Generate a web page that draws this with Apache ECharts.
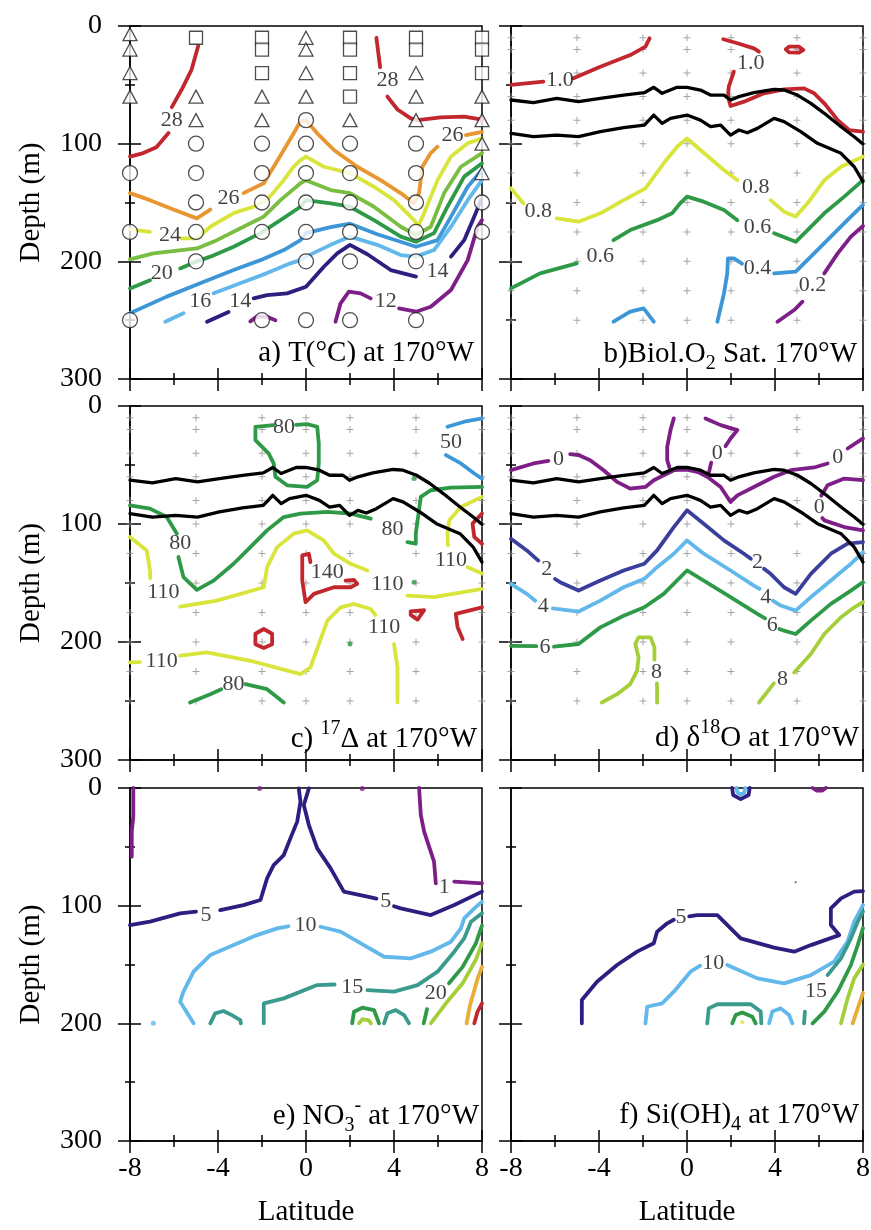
<!DOCTYPE html>
<html>
<head>
<meta charset="utf-8">
<script src="https://cdn.jsdelivr.net/npm/echarts@6/dist/echarts.min.js"></script>
<style>
  html, body { margin: 0; padding: 0; background: #fff; }
  #chart { width: 871px; height: 1230px; }
</style>
</head>
<body>
<div id="chart"></div>
<script>
// ---------------------------------------------------------------
// Equatorial Pacific section at 170°W: six contoured properties.
// Every contour is a list of [latitude, depth(m)] points; null
// marks a break in the line (where a contour label sits).
// ---------------------------------------------------------------
const latTicks = [-8, -4, 0, 4, 8];
const depthTicks = [0, 100, 200, 300];

// sampling grid shown as small crosses in panels b-d
const sampleLats = [-8, -5, -2, 0, 2, 5, 8];
const sampleDepths = [10, 20, 40, 60, 80, 100, 125, 150, 175, 200, 225, 250];

// ---- a) temperature (°C) ----
const t28 = [[-4.9,17],[-5.2,37],[-5.65,54],[-6.1,69],null,[-6.25,91],[-6.8,103],[-7.4,108],[-8,111],null,[3.2,10],[3.37,35],null,[3.7,60],[4.16,71],[4.76,78.5],[5.07,80],[6.13,77.6],[7.19,77],[7.8,79],[8,80]];
const t26 = [[-8,142],[-7.09,148],[-6.03,156],[-4.96,163.5],[-4.35,156],null,[-2.84,142],[-1.92,133.7],[-1.47,119.6],[-1.01,105.4],[-0.56,91.2],[-0.25,81],[0,80],[0.5,91],[1.27,105.4],[2.33,119.6],[3.39,131],[4.3,142],[4.91,150.7],[5.14,142],[5.29,119.6],[5.67,108],[5.98,102.6],null,[7.27,92.7],[8,90]];
const t24 = [[-8,172.8],[-7.1,175],null,[-5.64,180.5],[-4.96,180.5],[-4.35,170.6],[-3.29,159],[-2.38,153.6],[-1.77,148],[-1.01,131],[-0.56,119.6],[-0.25,114],[0,111],[0.81,119.6],[2,125],[3.09,136.6],[4,148],[4.91,165],[5.1,170],[5.37,159],[5.98,131],[6.59,111],[7.35,99.7],[8,95.5]];
const t22 = [[-8,198.3],[-6.94,193.2],[-4.96,189],[-4.05,182],[-2.84,170.6],[-1.92,162],[-1.16,148],[-0.25,133.7],[0,131],[1.12,139.4],[2,142],[3.09,153.6],[4.31,170.6],[5,177.7],[5.67,170.6],[6.28,142],[7.04,119.6],[8,108]];
const t20 = [[-8,223],[-7.09,216],null,[-5.72,206],[-4.96,200],[-4.35,196],[-3.29,187.6],[-2.07,176],[-1.16,165],[-0.25,153.6],[0,148],[1.12,150.7],[2,153.6],[3.09,165],[4.31,179],[5,183.4],[5.82,176],[6.43,153.6],[7.19,128],[8,116.7]];
const t18 = [[-8,244.2],[-6.33,230],[-4.81,218.7],[-3.29,207.4],[-2.07,199],[-1.01,190.4],[-0.25,182],[0,176],[1.12,171],[2,168],[3.24,177],[5,187.6],[5.98,182],[6.59,162],[7.35,136.6],[8,122.4]];
const t16 = [[-6.4,251.3],[-5.57,244.2],null,[-4.2,227.2],[-2.99,218.7],[-1.77,210],[-0.71,201.7],[-0.25,199],[0,196],[1.12,186],[2,179],[3.24,186],[4.31,194.7],[5,196],[5.82,190.4],[6.59,170.6],[7.35,148],[8,131]];
const t14 = [[-4.5,251.3],[-3.52,243],null,[-2.38,231.5],[-1.77,228.7],[-0.86,227.2],[0,221.6],[0.81,204.6],[1.42,193.2],[2,186],[2.79,194],[3.85,207.4],[5,213],null,[6.59,196],[7.19,182],[7.65,162],[7.95,148]];
const t12 = [[-2.53,251],[-2.23,247],[-1.77,247],[-1.39,250],null,[1.34,251.3],[1.57,235.7],[1.95,225.8],[2.48,227.2],[2.94,231.5],null,[4.23,240],[5,242.8],[5.67,238.6],[6.59,224.4],[7.35,199],[7.8,170.6],[8,165]];
const tLabels = [[-6.1,80,'28'],[3.7,46,'28'],[-3.52,146.5,'26'],[6.66,92.7,'26'],[-6.18,177.7,'24'],[-6.56,210,'20'],[-4.81,234.3,'16'],[-2.99,234.3,'14'],[5.98,208.8,'14'],[3.62,234,'12']];

// CTD / bottle sample positions in panel a
const stnTriangles = [[-8,7],[-8,20],[-8,40],[-8,60],[-5,60],[-5,80],[-2,60],[-2,80],[0,10],[0,20],[0,40],[0,60],[2,80],[5,40],[5,60],[5,80],[8,60],[8,80],[8,100],[8,125]];
const stnSquares = [[-5,10],[-2,10],[-2,20],[-2,40],[2,10],[2,20],[2,40],[2,60],[5,10],[5,20],[8,10],[8,20],[8,40]];
const stnCircles = [[-8,125],[-8,175],[-8,250],[-5,100],[-5,125],[-5,150],[-5,175],[-5,200],[-2,100],[-2,125],[-2,150],[-2,175],[-2,250],[0,80],[0,100],[0,125],[0,150],[0,175],[0,200],[0,250],[2,100],[2,125],[2,150],[2,175],[2,200],[2,250],[5,100],[5,125],[5,150],[5,175],[5,200],[5,250],[8,150],[8,175]];

// ---- mixed-layer / euphotic boundaries (black lines, panels b-d) ----
const mixTop = [[-8,62.9],[-6.98,65.2],[-5.92,61.5],[-4.93,64.3],[-3.94,61.5],[-2.88,58.7],[-1.94,56.7],[-1.51,52.1],[-1.13,57.2],[-0.45,52.1],[0,52.1],[0.61,54.4],[1.07,58.7],[1.68,58.7],[1.98,62.9],[2.36,60],[3.04,56.7],[3.96,53.8],[4.41,54.4],[5.02,58.7],[5.63,65.7],[6.24,74.2],[7,85.6],[7.6,94.1],[8,100.3]];
const mixBot = [[-8,91.2],[-6.98,94.1],[-5.92,92.7],[-4.93,94.1],[-3.94,89.8],[-2.88,86.4],[-1.94,84.2],[-1.51,75.7],[-1.13,82.7],[-0.75,78.5],[0,75.7],[0.61,80],[1.07,85.6],[1.53,84.2],[1.98,92.7],[2.36,88.4],[2.74,90.7],[3.2,87],[3.96,78.5],[4.41,81.3],[5.17,89.8],[5.93,99.7],[7,108.2],[7.6,119.6],[8,132.3]];

// ---- b) biological O2 saturation ----
const o2s10 = [[-8,50],[-6.53,47.3],null,[-5.16,44.5],[-3.94,34.6],[-2.58,24.7],[-1.89,17.6],[-1.7,10.5],null,[1.65,11.3],[2.29,14.7],[3.04,19],[3.27,21.8],null,[4.49,19.8],[4.64,17.6],[5.09,17.6],[5.29,20.4],[5.09,22.7],[4.64,22.4],[4.49,19.8],null,[2.13,38.8],[1.9,51.6],[1.86,60],[1.98,68],[2.59,64.3],[3.5,57.2],[4.41,53.8],[5.32,53],[5.78,57.2],[6.24,65.7],[6.85,80],[7.37,88.4],[8,89.8]];
const o2s08 = [[-8,138],[-7.44,150.7],null,[-5.92,163.5],[-4.93,166.3],[-3.94,159.2],[-2.88,148],[-1.89,138],[-1.06,116.7],[-0.45,102.6],[0,95.5],[0.61,105.4],[1.68,122.4],[2.29,131],null,[3.8,148],[4.41,157.8],[4.94,162],[5.48,150.7],[6.24,131],[7,119.6],[8,111]];
const o2s06 = [[-8,223],[-6.68,210.2],[-5.01,201.7],null,[-3.34,182],[-2.58,173.4],[-1.36,165],[-0.68,159.2],[-0.31,150.7],[0,145],[0.76,149.3],[1.68,156.4],[2.29,165],null,[3.96,176.2],[4.94,183.4],[5.48,173.4],[6.24,159.2],[7.15,145],[8,131]];
const o2s04 = [[-3.34,251.3],[-2.58,242.8],[-1.97,240],[-1.51,251.3],null,[1.38,251.3],[1.68,227.2],[1.83,210.2],[1.86,197.5],[2.13,197.5],[2.5,202],null,[3.96,210.2],[4.94,208.8],[5.63,196],[6.54,179],[7.45,162],[8,152]];
const o2s02 = [[4.11,251.3],[4.87,241.4],[5.25,234.3],null,[6.24,210.2],[6.85,193.2],[7.45,179],[8,170]];
const o2Labels = [[-5.77,46,'1.0'],[2.9,31.7,'1.0'],[-6.76,157.8,'0.8'],[3.12,136.6,'0.8'],[-3.94,196,'0.6'],[3.2,170.6,'0.6'],[3.2,206,'0.4'],[5.7,220,'0.2']];

// ---- c) 17Δ ----
const d17_80 = [[-1.47,16.2],[-2.3,17.6],[-2.3,28.9],[-1.7,40.2],[-1.47,48.7],[-1.39,60],[-0.86,67.2],[0.05,68.6],[0.51,62.9],[0.58,48.7],[0.58,31.7],[0.51,17.6],[0.05,15.3],[-0.45,16],null,[-8,84.2],[-7.09,87],[-6.33,94.1],[-5.87,108.2],null,[-5.8,128],[-5.57,145],[-4.96,155.8],[-4.2,148],[-3.29,133.7],[-2.53,119.6],[-1.77,105.4],[-1.01,94.1],[-0.25,91.2],[0.97,89.8],[2.03,91.2],[2.94,95.5],null,[4.61,115.3],[4.99,116.7],[4.99,108.2],[5.22,77],[5.67,71.4],[6.59,69.1],[8,68.6],null,[-5.27,251.3],[-4.35,244.2],[-3.85,240],null,[-2.75,235.7],[-1.77,240],[-1.01,251.3]];
const d17_80dots = [[4.91,61.5],[4.91,149.3],[2,201.7]];
const d17_110 = [[-8,111],[-7.24,122.4],[-7.09,139.4],[-7.08,146],null,[-5.72,170],[-4.05,165],[-1.92,153.6],[-1.77,136.6],[-1.31,119.6],[-0.56,108.2],[0.05,105.4],[0.81,113.9],[1.27,125.2],[2.03,133.7],[2.79,139.4],null,[4.61,160.7],[5.82,162],[8,155],null,[8,77],[7.04,85.6],[6.51,96.9],[6.43,108.2],[6.45,118],null,[7.35,136.6],[8,142],null,[-8,217.3],[-7.55,217],null,[-5.72,211.6],[-4.5,208.8],[-2.53,215.9],[-0.25,227.2],[0.2,221.6],[0.97,181.9],[1.57,170.6],[2.18,167.8],[2.94,172],[3.15,177],null,[4.0,201.7],[4.16,221.6],[4.16,251.3]];
const d17_140 = [[0.2,132.3],[0.13,125.2],[-0.17,126.6],[-0.17,147.9],[-0.02,166.3],[0.36,159.2],[1.27,153.6],[2.03,153.6],[2.33,150.7],[2.18,147.4],[1.8,147.9],null,[-2.3,193],[-1.92,189],[-1.54,193],[-1.54,202],[-1.92,205],[-2.3,202],[-2.3,193],null,[4.76,174],[5.37,173],[5.07,181],[4.76,177],[4.76,174],null,[8,91.2],[7.57,99.7],[7.65,111],[8,116.7],null,[8,170.6],[6.81,176.2],[6.89,187.6],[7.12,197.5]];
const d17_50 = [[8,10.5],[7.19,13.3],[6.43,17.6],null,[6.36,41.6],[7.04,48.7],[7.65,57.2],[8,61.5]];
const d17Labels = [[-1.0,17.6,'80'],[-5.72,116.7,'80'],[3.93,104,'80'],[-3.29,235.7,'80'],[-6.48,157.8,'110'],[3.7,150.7,'110'],[6.59,131,'110'],[-6.56,216,'110'],[3.55,187.6,'110'],[0.97,140.8,'140'],[6.59,30.3,'50']];

// ---- d) δ18O ----
const d18_0 = [[-8,54.4],[-6.98,48.7],[-6.3,46.5],null,[-5.31,40.8],[-4.93,41.6],[-4.4,45.9],[-3.79,54.4],[-3.18,64.3],[-2.58,70],[-1.89,68.6],[-1.51,62.9],[-1.06,58.7],[-0.6,54.4],[0,54],[0.5,56],[0.92,60],[1.53,68.6],[1.98,81.3],[2.29,75.7],[3.04,68.6],[3.96,60],[4.72,54.4],[5.78,52.1],[6.39,48.7],null,[7.3,36],[8,27.5],null,[-0.6,10.5],[-0.75,20.4],[-0.9,34.6],[-0.9,45.9],[-0.8,52],null,[0.84,10.5],[1.53,16.2],[2.29,20.4],[1.98,27.5],[1.75,34],null,[1.1,48],[1.0,56],null,[8,62.9],[7.15,61.5],[6.39,67.2],[6.1,76],null,[6.15,95],[6.24,96.9],[7.15,102.6],[8,105.4]];
const d18_2 = [[-8,112.5],[-7.28,122.4],[-6.76,131],null,[-6.0,146.6],[-5.77,149.3],[-4.93,156.4],[-3.94,147.9],[-2.88,139.4],[-1.94,133.7],[-1.36,122.4],[-0.6,102.6],[0,88.4],[0.76,99.7],[1.68,113.9],[2.59,125.2],[2.9,129.5],null,[3.5,138],[3.8,142.2],[4.41,153.6],[4.94,159.2],[5.63,142.2],[6.54,125.2],[7.3,116.7],[8,115.3]];
const d18_4 = [[-8,150.7],[-7.28,159.2],[-6.9,165],null,[-6.1,171.5],[-5.92,172],[-4.93,174.2],[-3.94,164.9],[-2.88,153.6],[-1.94,146.5],[-1.36,136.6],[-0.6,125.2],[0,113.9],[0.76,125.2],[1.98,139.4],[3.04,152.2],[3.3,155],null,[3.9,165],[4.26,169.1],[4.94,173.4],[5.63,162],[6.54,147.9],[7.45,133.7],[8,123.8]];
const d18_6 = [[-8,203.2],[-6.85,203.5],null,[-6.05,204],[-4.93,201.7],[-3.94,187.6],[-2.88,177.7],[-1.94,170.6],[-1.06,159.2],[0,139.4],[0.76,147.9],[1.98,162],[3.2,176.2],[3.55,180],null,[4.2,189],[4.41,190.4],[4.94,193.2],[5.63,181.9],[6.54,167.7],[7.45,156.4],[8,149.3]];
const d18_8 = [[-3.87,251.3],[-3.18,244.2],[-2.58,235.7],[-2.27,224.4],[-2.2,213.1],[-2.35,201.7],[-2.2,196],[-1.66,196],[-1.48,204.6],[-1.48,215],null,[-1.37,235],[-1.36,238.6],[-1.36,251.3],null,[3.27,251.3],[3.8,238.6],[3.95,235],null,[4.87,225.8],[5.63,210.2],[6.24,193.2],[7,179],[7.6,170.6],[8,166.3]];
const d18Labels = [[-5.84,45.3,'0'],[1.38,40.2,'0'],[6.85,43.1,'0'],[6.01,85.6,'0'],[-6.37,138,'2'],[3.2,132.3,'2'],[-6.53,170,'4'],[3.58,162,'4'],[-6.45,204,'6'],[3.88,186,'6'],[-1.39,225.8,'8'],[4.34,231.5,'8']];

// ---- e) nitrate ----
const no3_1 = [[-7.85,0],[-7.85,24],[-7.92,37],[-7.92,58.4],null,[5.14,0],[5.22,23],[5.37,37],[5.67,54.1],[5.82,62.6],[5.9,81],null,[6.74,79.6],[8,81]];
const no3_1dots = [[-2.11,0.5],[2.56,0.5]];
const no3_5 = [[-8,116.5],[-7.09,113.6],[-5.72,106.5],[-5.0,105],null,[-3.9,103.7],[-2.84,99.5],[-2.07,95.2],[-1.77,76.8],[-1.47,65.5],[-1.01,57],[-0.71,42.8],[-0.4,28.6],[-0.25,11.6],[-0.33,0.3],null,[0.13,0.3],[-0.1,14.5],[0.13,31.5],[0.51,51.3],[1.12,68.3],[1.72,88.1],[2.79,92.4],[3.2,94],null,[4.0,100.5],[4.31,102.3],[5.67,108],[6.74,99.5],[8,88.1]];
const no3_10 = [[-5.11,200],[-5.72,181.6],[-5.57,173.1],[-5.11,156.1],[-4.35,142],[-3.29,133.5],[-2.23,125],[-1.31,119.3],[-0.8,117.5],null,[0.66,117.9],[1.57,122.1],[2.63,133.5],[3.55,143.4],[4.76,144.8],[5.67,139.1],[6.59,130.6],[7.04,119.3],[7.19,110.8],[7.65,102.3],[8,96.6]];
const no3_10dots = [[-6.94,200]];
const no3_15 = [[-1.92,200],[-1.92,183],[-1.01,178.8],[0.51,167.5],[1.3,167],null,[2.79,171.7],[4,173.1],[5.07,167.5],[5.98,156.1],[6.74,139.1],[7.19,127.8],[7.5,113.6],[8,106.5],null,[-4.35,200],[-4.13,191.5],[-3.75,189.5],[-3.37,193],[-2.99,197.2],[-2.96,200],null,[3.55,200],[3.7,191.5],[4.08,188.7],[4.46,193],[4.68,200]];
const no3_20 = [[5.35,200],[5.5,188],null,[6.5,166],[7.12,152],[7.72,132],[8,117],null,[2.1,200],[2.18,190.1],[2.56,186.7],[3.09,188.7],[3.32,200]];
const no3_25 = [[5.67,200],[6.36,183],[7.12,166],[7.72,146],[8,132],null,[2.41,200],[2.56,196.5],[2.86,197.5],[2.95,200]];
const no3_30 = [[7.3,200],[7.45,185],[7.8,162],[8,152]];
const no3_35 = [[7.65,200],[7.8,190],[8,183]];
const no3Labels = [[-4.54,108,'5'],[3.62,96.6,'5'],[-0.02,116.5,'10'],[2.1,168.9,'15'],[5.9,174.5,'20'],[6.28,83.9,'1']];

// ---- f) silicate ----
const si_1 = [[5.71,0],[5.9,2.2],[6.15,2.2],[6.31,0]];
const si_5 = [[-4.78,200],[-4.78,180.2],[-4.09,164.6],[-3.18,150.4],[-2.27,139.1],[-1.51,132],[-1.36,122.1],[-0.9,115],[-0.6,112],null,[0.1,109],[0.46,108],[1.38,108],[2.44,127.8],[3.96,135.7],[4.87,139.1],[5.63,133.5],[6.92,125],[6.54,116.5],[6.54,102.3],[7,93.8],[7.6,88.1],[8,87.6],null,[2.05,0],[2.1,6],[2.44,9.5],[2.8,6],[2.85,0]];
const si_10 = [[-1.89,200],[-1.81,185.9],[-1.13,183],[-0.6,173.1],[0.16,156.1],[0.6,151],null,[1.83,150.4],[3.2,161.8],[4.41,166],[5.63,159],[6.69,147.6],[7.3,130.6],[7.6,113.6],[8,99.5],null,[3.73,200],[3.88,190],[4.26,187.3],[4.64,193],[4.79,200],null,[2.25,0],[2.3,4],[2.44,5.5],[2.6,4],[2.65,0]];
const si_15 = [[5.32,200],[5.36,190],null,[6.39,159],[7,144.8],[7.45,127.8],[7.76,113.6],[8,105],null,[0.92,200],[0.99,187.3],[1.38,183.8],[2.9,183.8],[3.35,190],[3.38,200]];
const si_20 = [[5.71,200],[6.24,190],[6.85,173],[7.45,150.4],[7.76,133.5],[8,119],null,[2.06,200],[2.21,193],[2.51,190.7],[2.97,194.4],[3.12,200]];
const si_25 = [[7,200],[7.3,178.8],[7.6,161.8],[8,150]];
const si_30 = [[7.53,200],[7.76,187.3],[8,174]];
const si_25dots = [[2.51,199]];
const siStray = [[4.94,80]];
const siLabels = [[-0.27,110.2,'5'],[1.19,149,'10'],[5.86,173,'15']];

// ---------------------------------------------------------------
// styling and assembly
// ---------------------------------------------------------------
const FONT = "'Liberation Serif', 'DejaVu Serif', 'Times New Roman', serif";
const C = {
  red: '#c1272d', orange: '#e8962f', yellow: '#d9e53c', lime: '#79bd41',
  green: '#2e9a47', blue: '#3d97d6', sky: '#62b8ea', indigo: '#2c1f80',
  purple: '#7d1f87', slate: '#3b3f9c', teal: '#3a9a8c', lime2: '#a4cf3a',
  amber: '#e6ad38', black: '#000'
};
const LW = 3.8;

const grids = [
  { left: 130, top: 26,  width: 352, height: 353 },
  { left: 511, top: 26,  width: 352, height: 353 },
  { left: 130, top: 406, width: 352, height: 354 },
  { left: 511, top: 406, width: 352, height: 354 },
  { left: 130, top: 788, width: 352, height: 353 },
  { left: 511, top: 788, width: 352, height: 353 }
];

function segments(arr) {
  const out = []; let cur = [];
  arr.forEach(p => { if (p === null) { if (cur.length) out.push(cur); cur = []; } else cur.push(p); });
  if (cur.length) out.push(cur);
  return out;
}

const series = [];
function contour(g, arr, color, width, z) {
  segments(arr).forEach(seg => series.push({
    type: 'line', xAxisIndex: 2 * g, yAxisIndex: 2 * g, data: seg,
    showSymbol: false, symbol: 'none', silent: true, z: z || 2,
    lineStyle: { color: color, width: width || LW, cap: 'round', join: 'round' }
  }));
}
function labels(g, arr) {
  series.push({
    type: 'scatter', xAxisIndex: 2 * g, yAxisIndex: 2 * g, silent: true, z: 6,
    data: arr.map(d => ({ value: [d[0], d[1]], name: d[2] })),
    symbolSize: 1, itemStyle: { color: 'rgba(0,0,0,0)' },
    label: { show: true, position: 'inside', formatter: '{b}', fontSize: 22, fontFamily: FONT, color: '#111' }
  });
}
function dots(g, arr, color, size) {
  series.push({
    type: 'scatter', xAxisIndex: 2 * g, yAxisIndex: 2 * g, silent: true, z: 3,
    data: arr, symbol: 'circle', symbolSize: size, itemStyle: { color: color }
  });
}
function crosses(g) {
  const pts = [];
  sampleLats.forEach(la => sampleDepths.forEach(d => pts.push([la, d])));
  series.push({
    type: 'scatter', xAxisIndex: 2 * g, yAxisIndex: 2 * g, silent: true, z: 1,
    data: pts, symbol: 'path://M3,0H4V3H7V4H4V7H3V4H0V3H3Z', symbolSize: 7,
    itemStyle: { color: '#8e8e8e' }
  });
}
function stations(g, arr, symbol, size) {
  series.push({
    type: 'scatter', xAxisIndex: 2 * g, yAxisIndex: 2 * g, silent: true, z: 5,
    data: arr, symbol: symbol, symbolSize: size,
    itemStyle: { color: '#fff', borderColor: '#222', borderWidth: 1.3 }
  });
}

// a) temperature
contour(0, t28, C.red); contour(0, t26, C.orange); contour(0, t24, C.yellow);
contour(0, t22, C.lime); contour(0, t20, C.green); contour(0, t18, C.blue);
contour(0, t16, C.sky); contour(0, t14, C.indigo); contour(0, t12, C.purple);
labels(0, tLabels);
stations(0, stnCircles, 'circle', 15);
stations(0, stnSquares, 'rect', 13);
stations(0, stnTriangles, 'triangle', [14, 13]);

// b) biological O2 saturation
crosses(1);
contour(1, o2s10, C.red); contour(1, o2s08, C.yellow); contour(1, o2s06, C.green);
contour(1, o2s04, C.blue); contour(1, o2s02, C.purple);
contour(1, mixTop, C.black, 3.3, 3); contour(1, mixBot, C.black, 3.3, 3);
labels(1, o2Labels);

// c) 17Δ
crosses(2);
contour(2, d17_80, C.green); contour(2, d17_110, C.yellow); contour(2, d17_140, C.red);
contour(2, d17_50, C.blue);
dots(2, d17_80dots, C.green, 5);
contour(2, mixTop, C.black, 3.3, 3); contour(2, mixBot, C.black, 3.3, 3);
labels(2, d17Labels);

// d) δ18O
crosses(3);
contour(3, d18_0, C.purple); contour(3, d18_2, C.slate); contour(3, d18_4, C.sky);
contour(3, d18_6, C.green); contour(3, d18_8, C.lime2);
contour(3, mixTop, C.black, 3.3, 3); contour(3, mixBot, C.black, 3.3, 3);
labels(3, d18Labels);

// e) nitrate
contour(4, no3_1, C.purple); contour(4, no3_5, C.indigo); contour(4, no3_10, C.sky);
contour(4, no3_15, C.teal); contour(4, no3_20, C.green); contour(4, no3_25, C.lime2);
contour(4, no3_30, C.amber); contour(4, no3_35, C.red);
dots(4, no3_1dots, C.purple, 5); dots(4, no3_10dots, C.sky, 5);
labels(4, no3Labels);

// f) silicate
contour(5, si_1, C.purple); contour(5, si_5, C.indigo); contour(5, si_10, C.sky);
contour(5, si_15, C.teal); contour(5, si_20, C.green); contour(5, si_25, C.lime2);
contour(5, si_30, C.amber);
dots(5, si_25dots, C.yellow, 4); dots(5, siStray, '#333', 2);
labels(5, siLabels);

// axes: each grid gets an outward-tick axis (with labels) and an
// inward-tick twin so that ticks cross the axis line
const axisLine = { color: '#000', width: 1.5 };
const xAxes = [], yAxes = [];
grids.forEach((g, i) => {
  const bottomRow = i >= 4, leftCol = i % 2 === 0;
  const xBase = {
    gridIndex: i, type: 'value', position: 'bottom',
    min: latTicks[0], max: latTicks[latTicks.length - 1], interval: latTicks[1] - latTicks[0],
    splitLine: { show: false }, minorSplitLine: { show: false }
  };
  const yBase = {
    gridIndex: i, type: 'value', position: 'left', inverse: true,
    min: depthTicks[0], max: depthTicks[depthTicks.length - 1], interval: depthTicks[1] - depthTicks[0],
    splitLine: { show: false }, minorSplitLine: { show: false }
  };
  xAxes.push(Object.assign({}, xBase, {
    axisLine: { show: true, onZero: false, lineStyle: axisLine },
    axisTick: { show: true, length: 12, lineStyle: axisLine },
    minorTick: { show: true, splitNumber: 2, length: 6, lineStyle: axisLine },
    axisLabel: { show: bottomRow, margin: 14, fontSize: 28, fontFamily: FONT, color: '#000' },
    name: bottomRow ? 'Latitude' : '', nameLocation: 'middle', nameGap: 57, nameMoveOverlap: false,
    nameTextStyle: { fontSize: 29, fontFamily: FONT, color: '#000' }
  }));
  xAxes.push(Object.assign({}, xBase, {
    axisLine: { show: false, onZero: false },
    axisTick: { show: true, inside: true, length: 11, lineStyle: axisLine },
    minorTick: { show: true, splitNumber: 2, length: 6, lineStyle: axisLine },
    axisLabel: { show: false }
  }));
  yAxes.push(Object.assign({}, yBase, {
    axisLine: { show: true, onZero: false, lineStyle: axisLine },
    axisTick: { show: true, length: 12, lineStyle: axisLine },
    minorTick: { show: true, splitNumber: 2, length: 5, lineStyle: axisLine },
    axisLabel: { show: leftCol, margin: 28, fontSize: 28, fontFamily: FONT, color: '#000' },
    name: leftCol ? 'Depth (m)' : '', nameLocation: 'middle', nameGap: 84, nameMoveOverlap: false,
    nameTextStyle: { fontSize: 29, fontFamily: FONT, color: '#000' }
  }));
  yAxes.push(Object.assign({}, yBase, {
    axisLine: { show: false, onZero: false },
    axisTick: { show: true, inside: true, length: 11, lineStyle: axisLine },
    minorTick: { show: true, splitNumber: 2, length: 5, lineStyle: axisLine },
    axisLabel: { show: false }
  }));
});

// panel captions (rich text for sub/superscripts)
const RICH = {
  m:   { fontSize: 29, fontFamily: FONT, fill: '#000', color: '#000', lineHeight: 40, verticalAlign: 'middle' },
  sub: { fontSize: 20, fontFamily: FONT, fill: '#000', color: '#000', lineHeight: 15, verticalAlign: 'bottom' },
  sup: { fontSize: 20, fontFamily: FONT, fill: '#000', color: '#000', lineHeight: 20, verticalAlign: 'top' }
};
const captions = [
  { x: 474, y: 353,  text: '{m|a) T(°C) at 170°W}' },
  { x: 857, y: 354,  text: '{m|b)Biol.O}{sub|2}{m| Sat. 170°W}' },
  { x: 477, y: 739,  text: '{m|c) }{sup|17}{m|Δ at 170°W}' },
  { x: 859, y: 738,  text: '{m|d) δ}{sup|18}{m|O at 170°W}' },
  { x: 479, y: 1116, text: '{m|e) NO}{sub|3}{sup|-}{m| at 170°W}' },
  { x: 859, y: 1115, text: '{m|f) Si(OH)}{sub|4}{m| at 170°W}' }
];

const chart = echarts.init(document.getElementById('chart'), null, { renderer: 'canvas' });
chart.setOption({
  animation: false,
  backgroundColor: '#fff',
  textStyle: { fontFamily: FONT },
  grid: grids.map(g => Object.assign({ show: true, borderColor: '#000', borderWidth: 1.5, backgroundColor: 'transparent', containLabel: false, outerBoundsMode: 'none' }, g)),
  xAxis: xAxes,
  yAxis: yAxes,
  series: series,
  graphic: captions.map(c => ({
    type: 'text', x: c.x, y: c.y, z: 100, silent: true,
    style: { text: c.text, rich: RICH, align: 'right', verticalAlign: 'middle', fontSize: 29, fontFamily: FONT, fill: '#000' }
  }))
});
</script>
</body>
</html>
